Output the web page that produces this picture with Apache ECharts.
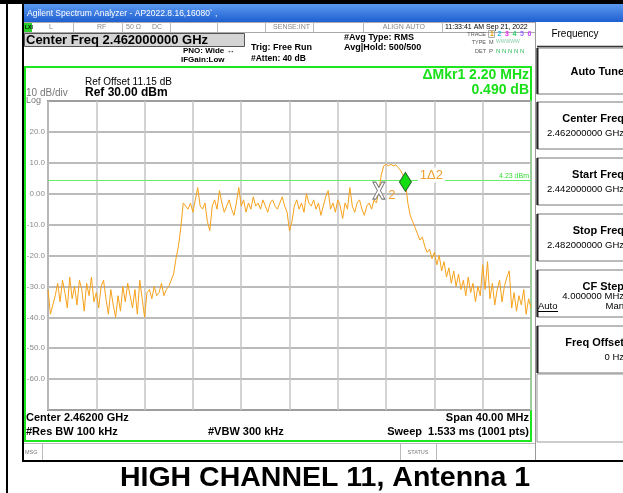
<!DOCTYPE html>
<html><head><meta charset="utf-8">
<script src="https://cdn.jsdelivr.net/npm/echarts@6/dist/echarts.min.js"></script>
<style>html,body{margin:0;padding:0;background:#fff}#c{width:623px;height:493px}</style>
</head><body><div id="c"></div>
<script>
// ---- data ----
const freqStartMHz = 2442;   // start freq
const freqStepMHz = 0.2;     // sample spacing used for the hand-read trace
const yTicks = [30, 20, 10, 0, -10, -20, -30, -40, -50, -60, -70];
const traceDbm = [
 -31,-39,-36,-33,-29,-35,-28,-32,-37,-27,-34,-30,-36,-28,-31,-38,-29,-33,-27,-35,
 -32,-37,-30,-28,-34,-39,-31,-36,-40,-33,-38,-30,-35,-29,-33,-37,-31,-39,-28,-34,
 -40,-32,-31,-34,-30,-33,-32,-29,-33,-31,-30,-28,-26,-21,-17,-11,-3,
 -4,-5,-3,-6,-2,2,-4,-5,-3,-9,-12,-4,-2,-5,1,-3,-6,-4,-2,-5,-7,-3,2,-4,
 -2,-6,-3,-5,-1,-4,-3,-5,-2,-4,-6,-3,-2,-4,-5,-3,-1,-4,-6,-12,-9,-4,-2,-5,
 -3,-6,0,-3,-4,-2,-5,-3,-7,-4,-1,1,-5,-3,-6,-2,-4,-8,-3,-5,2,-4,-6,-3,-2,
 -5,-7,-4,-3,-5,-2,-3,
 1,6,9,9.5,9,9.5,9,9.3,8.5,7.5,6,
 3.8,-3,-7,-9,-11,-13,-15,-14,-17,-19,-18,-21,-19,-23,-20,-25,-22,-27,-24,-29,
 -25,-30,-26,-31,-28,-33,-27,-32,-29,-35,-30,-33,-23,-31,-22,-34,-29,-36,-31,-28,
 -35,-30,-27,-25,-37,-32,-38,-33,-36,-31,-39,-34,-37
];
const displayLineDbm = 4.23;
const markerFreqs = [2471.6, 2469.4];
const markerVals = [3.8, 1.0];
const softkeyLabels = ['Auto Tune', 'Center Freq', 'Start Freq', 'Stop Freq', 'CF Step', 'Freq Offset'];
const softkeyValues = ['', '2.462000000 GHz', '2.442000000 GHz', '2.482000000 GHz', '4.000000 MHz', '0 Hz'];

// ---- build ----
const traceData = traceDbm.map((v, i) => [freqStartMHz + i * freqStepMHz, v]);
const F = 'Liberation Sans, Arial, sans-serif';
const G = [];
function rect(x, y, w, h, fill, stroke, lw) {
  G.push({type: 'rect', shape: {x, y, width: w, height: h}, style: {fill: fill || 'none', stroke: stroke || 'none', lineWidth: lw || 1}, silent: true});
}
function line(x1, y1, x2, y2, stroke, lw) {
  G.push({type: 'line', shape: {x1, y1, x2, y2}, style: {stroke, lineWidth: lw || 1}, silent: true});
}
function text(t, x, y, font, fill, align) {
  G.push({type: 'text', x, y, style: {text: t, font: font + ' ' + F, fill: fill || '#000', align: align || 'left', verticalAlign: 'middle'}, silent: true, z: 10});
}
// outer frame
rect(0, 0, 623, 4, '#000');
rect(6, 0, 2, 493, '#000');
rect(22, 4, 2, 458, '#000');
rect(22, 460, 601, 2, '#000');
// title bar
G.push({type: 'rect', shape: {x: 24, y: 4, width: 599, height: 18}, silent: true,
  style: {fill: {type: 'linear', x: 0, y: 0, x2: 0, y2: 1, colorStops: [{offset: 0, color: '#5b9af0'}, {offset: 1, color: '#1f5fd0'}]}}});
text('Agilent Spectrum Analyzer - AP2022.8.16,16080` ,', 27, 14, '8.5px', '#fff');
// status row
line(24, 22.5, 535, 22.5, '#aaa');
line(24, 32.5, 535, 32.5, '#aaa');
[73, 122, 170, 217, 265, 313, 363, 442].forEach(x => line(x + 0.5, 22, x + 0.5, 32, '#bbb'));
rect(24, 23, 8, 9, '#2bd02b');
text('LXI', 25, 27.5, 'bold 5px', '#000');
text('L', 49, 27.5, '7px', '#888');
text('RF', 97, 27.5, '7px', '#888');
text('50 Ω', 126, 27.5, '7px', '#888');
text('DC', 152, 27.5, '7px', '#888');
text('SENSE:INT', 310, 27.5, '7px', '#888', 'right');
text('ALIGN AUTO', 425, 27.5, '7px', '#888', 'right');
text('11:33:41 AM Sep 21, 2022', 445, 27.5, '7px', '#000');
// info row
rect(24.5, 33.5, 220, 13, '#d4d4d4', '#555', 1);
text('Center Freq 2.462000000 GHz', 26, 40.5, 'bold 13px', '#000');
text('PNO: Wide ↔', 183, 51, 'bold 8px', '#000');
text('IFGain:Low', 181, 60, 'bold 8px', '#000');
text('Trig: Free Run', 251, 48, 'bold 9px', '#000');
text('#Atten: 40 dB', 251, 58.5, 'bold 8.5px', '#000');
text('#Avg Type: RMS', 344, 38, 'bold 9px', '#000');
text('Avg|Hold: 500/500', 344, 47.5, 'bold 9px', '#000');
text('TRACE', 486, 34, '5.5px', '#555', 'right');
text('TYPE', 486, 42, '5.5px', '#555', 'right');
text('DET', 486, 51, '5.5px', '#555', 'right');
rect(488.5, 30.5, 6, 7, 'none', '#999', 0.8);
const tc = ['#f0a000', '#22bbee', '#ee22ee', '#22cc66', '#9966ff', '#cc44ff'];
tc.forEach((c, i) => text(String(i + 1), 490 + i * 7.5, 34, 'bold 7px', c));
text('M', 489, 42, '5.5px', '#555');
text('WWWWW', 496, 42, '5px', '#88ccaa');
text('P', 489, 51, '6px', '#555');
text('N N N N N', 496, 51, '6px', '#22bb55');
// right softkey panel
line(535.5, 22, 535.5, 460, '#999');
text('Frequency', 575, 34, '10px', '#000', 'center');
line(537, 46.5, 623, 46.5, '#333', 1.5);
const skTops = [48, 102, 158, 214, 270, 326];
softkeyLabels.forEach((lab, i) => {
  const t = skTops[i];
  const h = i === 0 ? 46 : 47;
  rect(537, t, 90, h, '#fff', '#777', 1);
  line(537.5, t, 537.5, t + h, '#222', 2);
  const ly = i === 0 ? t + 24 : t + 17;
  text(lab, 624, ly, 'bold 11px', '#000', 'right');
  if (softkeyValues[i]) text(softkeyValues[i], 624, i === 4 ? t + 26 : t + 31, '9.5px', '#000', 'right');
});
text('Auto', 538, 306, '9.5px', '#000');
line(538, 311.5, 558, 311.5, '#000', 1);
text('Man', 624, 306, '9.5px', '#000', 'right');
rect(537, 374, 90, 68, '#fff', '#999', 1);
// green measurement frame
rect(25, 67, 506, 374, 'none', '#1ee61e', 2);
text('Ref Offset 11.15 dB', 85, 82, '10px', '#000');
text('Ref 30.00 dBm', 85, 92.5, 'bold 12px', '#000');
text('10 dB/div', 26, 93.5, '10px', '#777');
text('Log', 26, 101, '9px', '#777');
text('ΔMkr1 2.20 MHz', 529, 75, 'bold 14px', '#19e019', 'right');
text('0.490 dB', 529, 90, 'bold 14px', '#19e019', 'right');
text('Center 2.46200 GHz', 26, 418, 'bold 11px', '#000');
text('#Res BW 100 kHz', 26, 432, 'bold 11px', '#000');
text('#VBW 300 kHz', 208, 432, 'bold 11px', '#000');
text('Span 40.00 MHz', 529, 418, 'bold 11px', '#000', 'right');
text('Sweep  1.533 ms (1001 pts)', 529, 432, 'bold 11px', '#000', 'right');
// msg row
line(24, 443.5, 535, 443.5, '#bbb');
line(42.5, 443, 42.5, 460, '#bbb');
line(400.5, 443, 400.5, 460, '#bbb');
line(436.5, 443, 436.5, 460, '#bbb');
text('MSG', 25, 452, '5.5px', '#777');
text('STATUS', 418, 452, '5.5px', '#777', 'center');
// caption
text('HIGH CHANNEL 11, Antenna 1', 325, 478, 'bold 28.5px', '#000', 'center');

const chart = echarts.init(document.getElementById('c'), null, {renderer: 'canvas'});
chart.setOption({
  animation: false,
  backgroundColor: '#fff',
  grid: {left: 48, top: 101, width: 483, height: 309, show: true, borderColor: '#8c8c8c', borderWidth: 2, backgroundColor: 'transparent'},
  xAxis: {type: 'value', min: 2442, max: 2482, interval: 4,
    axisLine: {show: false}, axisTick: {show: false}, axisLabel: {show: false},
    splitLine: {show: true, lineStyle: {color: '#c4c4c4', width: 1.5}}},
  yAxis: {type: 'value', min: -70, max: 30, interval: 10,
    axisLine: {show: false}, axisTick: {show: false},
    axisLabel: {margin: 3, color: '#8a8a8a', fontSize: 8, fontFamily: F,
      formatter: v => (v === yTicks[0] || v === yTicks[yTicks.length - 1]) ? '' : (v === 0 ? '0.00' : v.toFixed(1))},
    splitLine: {show: true, lineStyle: {color: '#a4a4a4', width: 1.5}}},
  graphic: G,
  series: [{
    type: 'line', data: traceData, showSymbol: false, symbol: 'none',
    lineStyle: {color: '#f7a21b', width: 1}, z: 5,
    markLine: {silent: true, symbol: 'none',
      lineStyle: {color: '#66ee66', width: 1, type: 'solid'},
      label: {show: true, position: 'insideEndTop', formatter: displayLineDbm.toFixed(2) + ' dBm', color: '#33dd33', fontSize: 7, distance: [2, 1]},
      data: [{yAxis: displayLineDbm}]},
    markPoint: {silent: true, z: 20,
      data: [
        {coord: [markerFreqs[0], markerVals[0]], symbol: 'diamond', symbolSize: [12, 19],
          itemStyle: {color: '#11dd11', borderColor: '#226622', borderWidth: 1},
          label: {show: true, position: 'right', offset: [1, -7], formatter: '1Δ2', color: '#f0a030', fontSize: 13, fontFamily: F, backgroundColor: '#fff', padding: [1, 2]}},
        {coord: [markerFreqs[1], markerVals[1]], symbol: 'path://M0,0 L3,0 L6,5 L9,0 L12,0 L7.5,8 L12,16 L9,16 L6,11 L3,16 L0,16 L4.5,8 Z', symbolSize: [12, 17],
          itemStyle: {color: '#fff', borderColor: '#777', borderWidth: 1},
          label: {show: true, position: 'right', offset: [-2, 5], formatter: '2', color: '#f0a030', fontSize: 13, fontFamily: F}}
      ]}
  }]
});
</script></body></html>
